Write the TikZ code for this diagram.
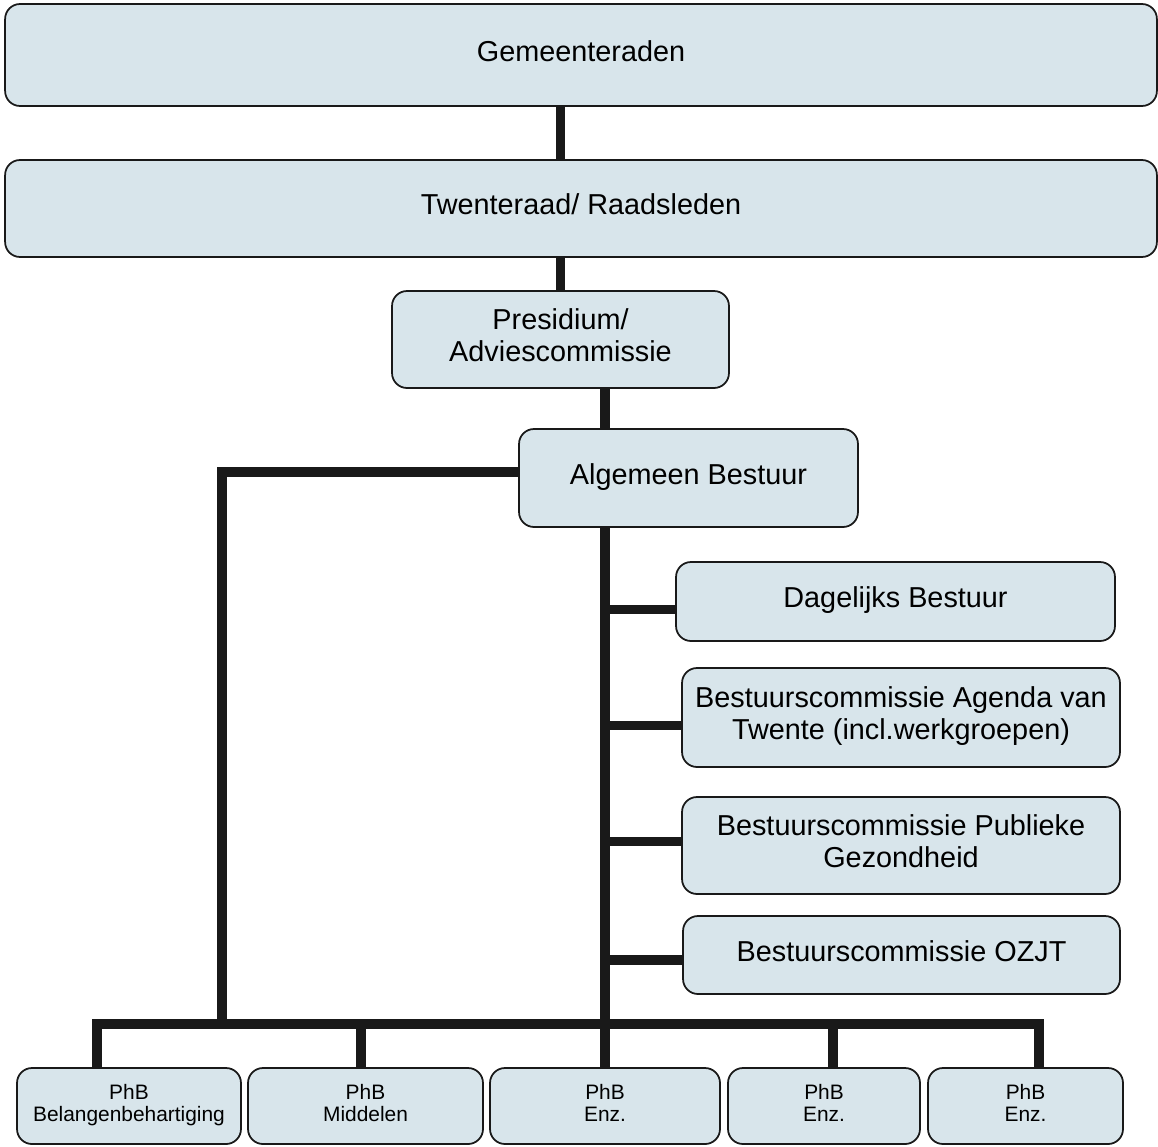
\documentclass[tikz,border=0pt]{standalone}
\usepackage{fontspec}
\setmainfont{Liberation Sans}
\usetikzlibrary{calc}
\definecolor{boxfill}{RGB}{216,229,235}
\definecolor{boxline}{RGB}{25,25,25}

\begin{document}
\begin{tikzpicture}[x=0.02cm, y=-0.02cm, line join=miter,
	box/.style={draw=boxline, line width=1pt, fill=boxfill, rounded corners=8.5pt,
		inner sep=0pt, align=center, text depth=5pt, font=\fontsize{16.4}{18.7}\selectfont},
	smallbox/.style={box, minimum height=1.52cm, text depth=4pt, font=\fontsize{11.9}{12.6}\selectfont},
	link/.style={line width=5.6pt, black!90}]

\useasboundingbox (0,0) rectangle (1158,1146);

% ================= Top: council levels =================
\node[box, minimum width=23.04cm, minimum height=2.04cm] (gr) at (581,55) {Gemeenteraden};
\node[box, minimum width=23.04cm, minimum height=1.94cm] (tr) at (581,208.5) {Twenteraad/ Raadsleden};
\node[box, minimum width=6.74cm, minimum height=1.94cm] (pr) at (560.5,339.5) {Presidium/\\Adviescommissie};
\node[box, minimum width=6.78cm, minimum height=1.96cm] (ab) at (688.5,478) {Algemeen Bestuur};

% ================= Right: committees =================
\node[box, minimum width=8.78cm, minimum height=1.58cm] (db) at (895.5,601.5) {Dagelijks Bestuur};
\node[box, minimum width=8.76cm, minimum height=1.98cm] (ag) at (901,717.5) {Bestuurscommissie Agenda van\\Twente (incl.werkgroepen)};
\node[box, minimum width=8.76cm, minimum height=1.94cm] (pg) at (901,845.5) {Bestuurscommissie Publieke\\Gezondheid};
\node[box, minimum width=8.74cm, minimum height=1.56cm] (oz) at (901.5,955) {Bestuurscommissie OZJT};

% ================= Bottom: portfolio holders =================
\node[smallbox, minimum width=4.48cm] (pb1) at (129,1106) {PhB\\Belangenbehartiging};
\node[smallbox, minimum width=4.70cm] (pb2) at (365.5,1106) {PhB\\Middelen};
\node[smallbox, minimum width=4.60cm] (pb3) at (605,1106) {PhB\\Enz.};
\node[smallbox, minimum width=3.84cm] (pb4) at (824,1106) {PhB\\Enz.};
\node[smallbox, minimum width=3.90cm] (pb5) at (1025.5,1106) {PhB\\Enz.};

% bus with drop points
\coordinate (d0) at (222,1024);
\coordinate (d1) at (97,1024);
\coordinate (d2) at (361,1024);
\coordinate (d4) at (833,1024);
\coordinate (d5) at (1039,1024);

% ================= Connectors =================
\draw[link] (gr.south -| pr.north) -- (tr.north -| pr.north);
\draw[link] (tr.south -| pr.north) -- (pr.north);
\draw[link] (pr.south -| pb3.north) -- (ab.north -| pb3.north);
\draw[link] (ab.south -| pb3.north) -- (pb3.north);
\foreach \c/\dy in {db/8,ag/8,pg/-4,oz/5}
	\draw[link] ($(\c.west -| pb3.north)+(0,\dy)$) -- ($(\c.west)+(0,\dy)$);
\draw[link] ($(ab.west)+(0,-6)$) -| (d0);
\draw[link] (d1 |- pb1.north) -- (d1) -- (d5) -- (d5 |- pb5.north);
\draw[link] (d2) -- (d2 |- pb2.north);
\draw[link] (d4) -- (d4 |- pb4.north);

\end{tikzpicture}
\end{document}
